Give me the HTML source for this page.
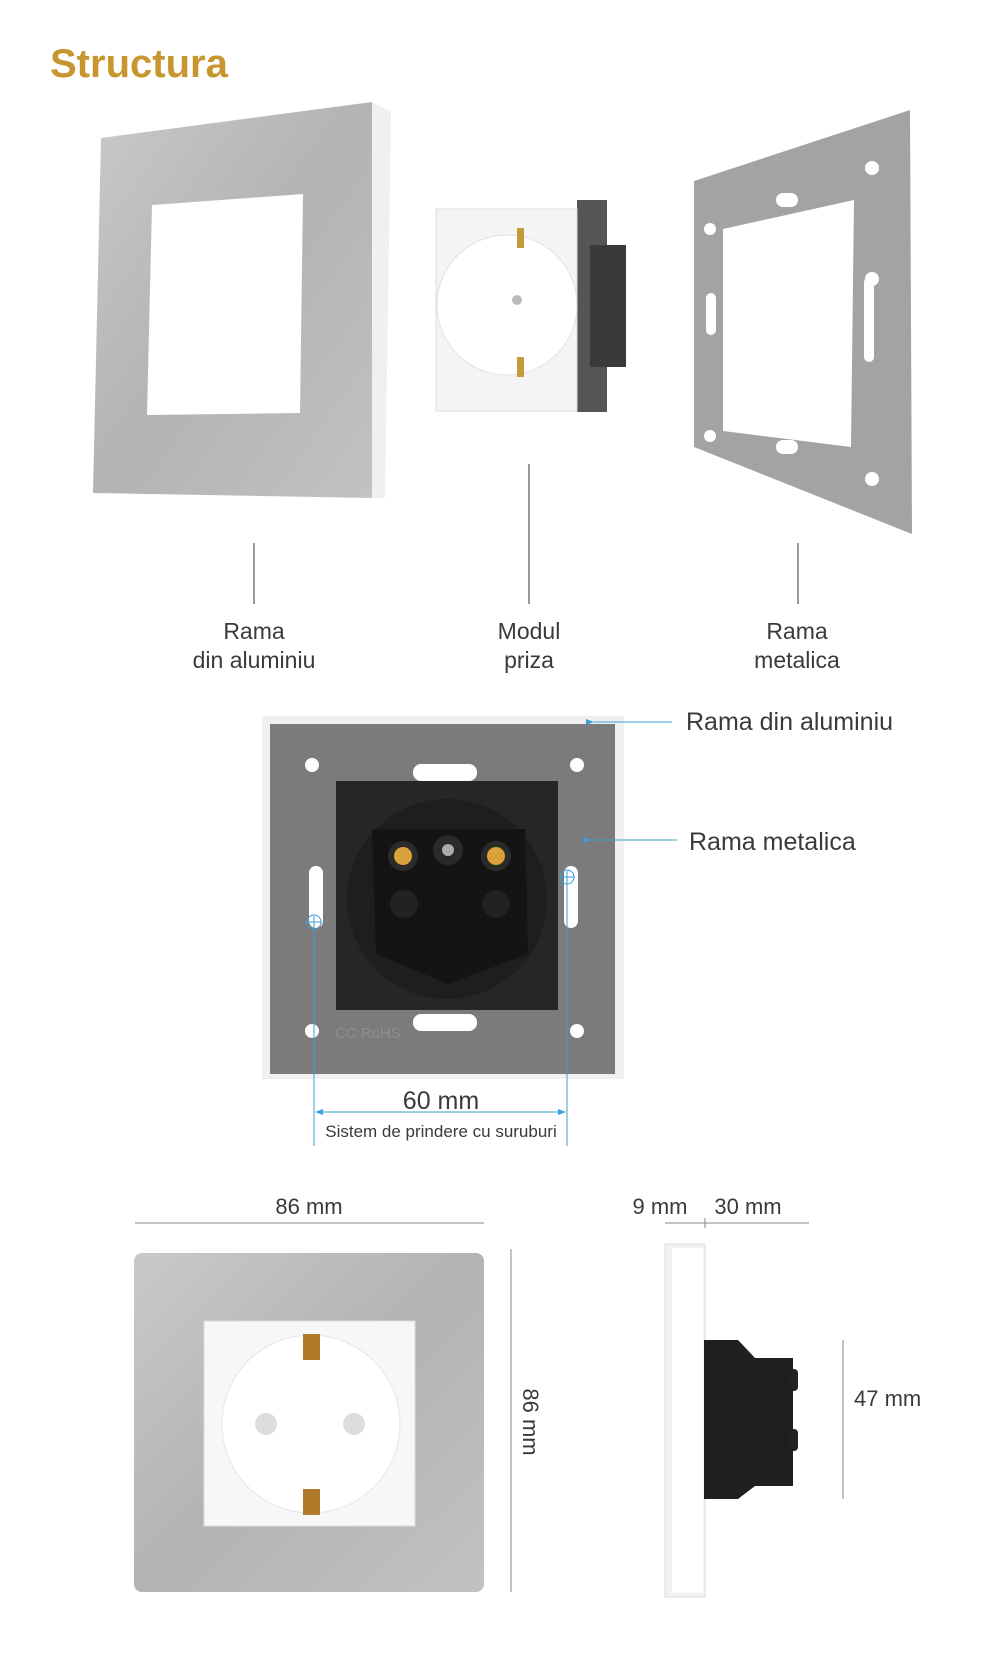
<!DOCTYPE html>
<html><head><meta charset="utf-8"><style>
html,body{margin:0;padding:0;background:#fff}
svg{display:block}
text{font-family:"Liberation Sans",sans-serif;fill:#3a3a3a}
</style></head><body>
<svg width="1000" height="1655" viewBox="0 0 1000 1655" xmlns="http://www.w3.org/2000/svg">
<defs>
<linearGradient id="al" x1="0" y1="0" x2="1" y2="1">
<stop offset="0" stop-color="#c9c9c9"/><stop offset="0.5" stop-color="#b3b3b3"/><stop offset="1" stop-color="#c2c2c2"/>
</linearGradient>
<marker id="ar" markerWidth="8" markerHeight="6" refX="0" refY="3" orient="auto"><path d="M0,3 L8,0 L8,6 Z" fill="#3a9fd6"/></marker>
</defs>
<text x="50" y="77" font-size="40" font-weight="bold" style="fill:#c8962e">Structura</text>

<polygon points="372,102 391,112 385,498 372,498" fill="#f0f0f0"/>
<polygon points="101,138 372,102 372,498 93,493" fill="url(#al)"/>
<polygon points="152,205 303,194 300,413 147,415" fill="#fff"/>

<rect x="577" y="200" width="30" height="212" fill="#555"/>
<rect x="590" y="245" width="36" height="122" fill="#3a3a3a"/>
<rect x="436" y="209" width="141" height="202" fill="#f4f4f4" stroke="#ddd"/>
<circle cx="507" cy="305" r="70" fill="#fff" stroke="#e2e2e2"/>
<circle cx="517" cy="300" r="5" fill="#bbb"/>
<rect x="517" y="228" width="7" height="20" fill="#c49a3a"/>
<rect x="517" y="357" width="7" height="20" fill="#c49a3a"/>

<polygon points="694,181 910,110 912,534 694,447" fill="#a3a3a3"/>
<polygon points="723,229 854,200 851,447 723,431" fill="#fff"/>
<circle cx="872" cy="168" r="7" fill="#fff"/><circle cx="710" cy="229" r="6" fill="#fff"/>
<circle cx="872" cy="279" r="7" fill="#fff"/><circle cx="710" cy="436" r="6" fill="#fff"/>
<circle cx="872" cy="479" r="7" fill="#fff"/>
<rect x="776" y="193" width="22" height="14" rx="7" fill="#fff"/><rect x="776" y="440" width="22" height="14" rx="7" fill="#fff"/>
<rect x="706" y="293" width="10" height="42" rx="5" fill="#fff"/><rect x="864" y="277" width="10" height="85" rx="5" fill="#fff"/>

<line x1="254" y1="543" x2="254" y2="604" stroke="#333"/>
<line x1="529" y1="464" x2="529" y2="604" stroke="#333"/>
<line x1="798" y1="543" x2="798" y2="604" stroke="#333"/>
<g font-size="23" text-anchor="middle">
<text x="254" y="639">Rama</text><text x="254" y="668">din aluminiu</text>
<text x="529" y="639">Modul</text><text x="529" y="668">priza</text>
<text x="797" y="639">Rama</text><text x="797" y="668">metalica</text>
</g>

<g transform="translate(0,-6)">
<rect x="262" y="722" width="362" height="363" fill="#f0f0f0"/>
<rect x="270" y="730" width="345" height="350" fill="#7b7b7b"/>
<rect x="336" y="787" width="222" height="229" fill="#262626"/>
<circle cx="447" cy="905" r="100" fill="#1e1e1e"/>
<polygon points="372,835 525,835 528,960 448,990 376,960" fill="#141414"/>
<circle cx="403" cy="862" r="15" fill="#2a2a2a"/><circle cx="403" cy="862" r="9" fill="#d9a23a"/>
<circle cx="448" cy="856" r="15" fill="#2a2a2a"/><circle cx="448" cy="856" r="6" fill="#aaa"/>
<circle cx="496" cy="862" r="15" fill="#2a2a2a"/><circle cx="496" cy="862" r="9" fill="#d9a23a"/>
<circle cx="404" cy="910" r="14" fill="#222"/><circle cx="496" cy="910" r="14" fill="#222"/>
<circle cx="312" cy="771" r="7" fill="#fff"/><circle cx="577" cy="771" r="7" fill="#fff"/>
<circle cx="312" cy="1037" r="7" fill="#fff"/><circle cx="577" cy="1037" r="7" fill="#fff"/>
<rect x="413" y="770" width="64" height="17" rx="8" fill="#fff"/><rect x="413" y="1020" width="64" height="17" rx="8" fill="#fff"/>
<rect x="309" y="872" width="14" height="62" rx="7" fill="#fff"/><rect x="564" y="872" width="14" height="62" rx="7" fill="#fff"/>
<text x="335" y="1044" font-size="15" style="fill:#8e8e8e">CC RoHS</text>
<g stroke="#3a9fd6" stroke-width="1" fill="none">
<line x1="672" y1="728" x2="594" y2="728" marker-end="url(#ar)"/>
<line x1="677" y1="846" x2="591" y2="846" marker-end="url(#ar)"/>
<line x1="314" y1="922" x2="314" y2="1152"/><line x1="567" y1="877" x2="567" y2="1152"/>
<circle cx="314" cy="928" r="7"/><line x1="306" y1="928" x2="322" y2="928"/>
<circle cx="567" cy="883" r="7"/><line x1="559" y1="883" x2="575" y2="883"/>
<line x1="323" y1="1118" x2="558" y2="1118"/>
</g>
<path d="M315,1118 L323,1115 L323,1121Z M566,1118 L558,1115 L558,1121Z" fill="#3a9fd6"/>
<text x="686" y="736" font-size="25">Rama din aluminiu</text>
<text x="689" y="856" font-size="25">Rama metalica</text>
<text x="441" y="1115" font-size="25" text-anchor="middle">60 mm</text>
<text x="441" y="1143" font-size="17" text-anchor="middle">Sistem de prindere cu suruburi</text>
</g>

<g transform="translate(0,-9)">
<line x1="135" y1="1232" x2="484" y2="1232" stroke="#888"/>
<text x="309" y="1223" font-size="22" text-anchor="middle">86 mm</text>
<rect x="134" y="1262" width="350" height="339" rx="8" fill="url(#al)"/>
<rect x="204" y="1330" width="211" height="205" fill="#f7f7f7" stroke="#ddd"/>
<circle cx="311" cy="1433" r="89" fill="#fff" stroke="#e6e6e6"/>
<circle cx="266" cy="1433" r="11" fill="#ddd"/><circle cx="354" cy="1433" r="11" fill="#ddd"/>
<rect x="303" y="1343" width="17" height="26" fill="#b07a2a"/>
<rect x="303" y="1498" width="17" height="26" fill="#b07a2a"/>
<line x1="511" y1="1258" x2="511" y2="1601" stroke="#888"/>
<text transform="translate(523,1431) rotate(90)" font-size="22" text-anchor="middle">86 mm</text>
<line x1="665" y1="1232" x2="809" y2="1232" stroke="#888"/>
<line x1="705" y1="1227" x2="705" y2="1237" stroke="#888"/>
<text x="660" y="1223" font-size="22" text-anchor="middle">9 mm</text>
<text x="748" y="1223" font-size="22" text-anchor="middle">30 mm</text>
<rect x="665" y="1253" width="40" height="353" fill="#f2f2f2" stroke="#ddd"/>
<rect x="672" y="1257" width="31" height="345" fill="#fff"/>
<polygon points="704,1349 738,1349 755,1367 793,1367 793,1495 755,1495 738,1508 704,1508" fill="#1f1f1f"/>
<rect x="790" y="1378" width="8" height="22" rx="4" fill="#222"/><rect x="790" y="1438" width="8" height="22" rx="4" fill="#222"/>
<line x1="843" y1="1349" x2="843" y2="1508" stroke="#888"/>
<text x="854" y="1415" font-size="22">47 mm</text>
</g>
</svg>
</body></html>
